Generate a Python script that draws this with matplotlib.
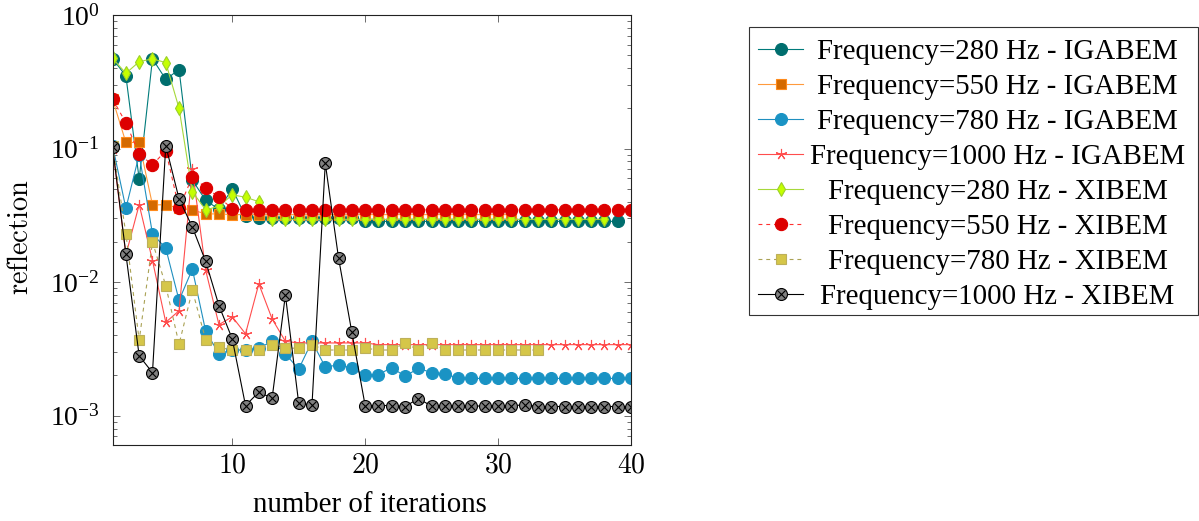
import matplotlib
matplotlib.use('Agg')
import matplotlib.pyplot as plt
from matplotlib.patches import Rectangle
import numpy as np

plt.rcParams['mathtext.fontset'] = 'cm'
plt.rcParams['font.family'] = ['Liberation Serif', 'DejaVu Serif']

# iteration numbers
iters = np.arange(1, 41)

# reflection per iteration
igabem_280 = [0.47, 0.35, 0.059, 0.47, 0.33, 0.39, 0.058, 0.041, 0.035, 0.050,
              0.031, 0.030, 0.030, 0.030, 0.030, 0.030, 0.030, 0.030, 0.030, 0.0285,
              0.0285, 0.0285, 0.0285, 0.0285, 0.0285, 0.0285, 0.0285, 0.0285, 0.0285, 0.0285,
              0.0285, 0.0285, 0.0285, 0.0285, 0.0285, 0.0285, 0.0285, 0.0285, 0.0285]
igabem_550 = [0.234, 0.111, 0.111, 0.0378, 0.038, 0.0357, 0.0347, 0.0324, 0.0324, 0.032,
              0.032, 0.032, 0.032, 0.032, 0.032, 0.032, 0.032, 0.032, 0.032, 0.032,
              0.032, 0.032, 0.032, 0.032, 0.032, 0.032, 0.032, 0.032, 0.032, 0.032,
              0.032]
igabem_780 = [0.105, 0.0357, 0.09, 0.023, 0.0179, 0.0073, 0.0125, 0.0043, 0.0029, 0.0031,
              0.0031, 0.0032, 0.0036, 0.0029, 0.00223, 0.0036, 0.00231, 0.0024, 0.00227, 0.0020,
              0.00203, 0.00229, 0.00197, 0.00226, 0.0021, 0.00206, 0.0019, 0.0019, 0.0019, 0.0019,
              0.0019, 0.0019, 0.0019, 0.0019, 0.0019, 0.0019, 0.0019, 0.0019, 0.0019, 0.0019]
igabem_1000 = [0.1, 0.016, 0.038, 0.0145, 0.0050, 0.0061, 0.07, 0.0123, 0.0048, 0.0055,
               0.0041, 0.0097, 0.0053, 0.0036, 0.0035, 0.0035, 0.0035, 0.0035, 0.0035, 0.0035,
               0.0034, 0.0034, 0.0034, 0.0034, 0.0034, 0.0034, 0.0034, 0.0034, 0.0034, 0.0034,
               0.0034, 0.0034, 0.0034, 0.0034, 0.0034, 0.0034, 0.0034, 0.0034, 0.0034, 0.0034]
xibem_280 = [0.474, 0.366, 0.447, 0.47, 0.44, 0.20, 0.0476, 0.0347, 0.037, 0.045,
             0.0432, 0.040, 0.0295, 0.0295, 0.0295, 0.0295, 0.0295, 0.0295, 0.0295, 0.0295,
             0.0295, 0.0295, 0.0295, 0.0295, 0.0295, 0.0295, 0.0295, 0.0295, 0.0295, 0.0295,
             0.0295, 0.0295, 0.0295, 0.0295, 0.0295, 0.0295, 0.0295, 0.0295]
xibem_550 = [0.234, 0.156, 0.091, 0.0754, 0.0965, 0.0357, 0.0616, 0.051, 0.0432, 0.0355,
             0.0347, 0.0347, 0.0347, 0.0347, 0.0347, 0.0347, 0.0347, 0.0347, 0.0347, 0.0347,
             0.0347, 0.0347, 0.0347, 0.0347, 0.0347, 0.0347, 0.0347, 0.0347, 0.0347, 0.0347,
             0.0347, 0.0347, 0.0347, 0.0347, 0.0347, 0.0347, 0.0347, 0.0347, 0.0347, 0.0347]
xibem_780 = [0.105, 0.023, 0.00366, 0.020, 0.0094, 0.00343, 0.0087, 0.0037, 0.00324, 0.0031,
             0.0031, 0.0031, 0.0034, 0.0032, 0.0032, 0.0034, 0.0031, 0.0031, 0.0031, 0.0032,
             0.0031, 0.0031, 0.0035, 0.0031, 0.0035, 0.0031, 0.0031, 0.0031, 0.0031, 0.0031,
             0.0031, 0.0031, 0.0031]
xibem_1000 = [0.103, 0.0162, 0.0028, 0.0021, 0.105, 0.042, 0.0258, 0.0143, 0.00667, 0.00376,
              0.00119, 0.0015, 0.00135, 0.0080, 0.00124, 0.0012, 0.0776, 0.0151, 0.0042, 0.00119,
              0.00119, 0.00119, 0.00117, 0.00134, 0.00118, 0.00118, 0.00118, 0.00118, 0.00118, 0.00118,
              0.00118, 0.00121, 0.00117, 0.00117, 0.00117, 0.00117, 0.00117, 0.00117, 0.00117, 0.00117]

labels = ['Frequency=280 Hz - IGABEM', 'Frequency=550 Hz - IGABEM',
          'Frequency=780 Hz - IGABEM', 'Frequency=1000 Hz - IGABEM',
          'Frequency=280 Hz - XIBEM', 'Frequency=550 Hz - XIBEM',
          'Frequency=780 Hz - XIBEM', 'Frequency=1000 Hz - XIBEM']
series = [igabem_280, igabem_550, igabem_780, igabem_1000,
          xibem_280, xibem_550, xibem_780, xibem_1000]

dash = (0, (3.5, 3.5))
styles = [
    dict(color='#007b7b', ls='-', marker='o', ms=8.6, mfc='#006e6e', mec='#006e6e'),
    dict(color='#ff9a3c', ls='-', marker='s', ms=7.8, mfc='#d46a00', mec='#ff8a1a'),
    dict(color='#1f8fbf', ls='-', marker='o', ms=8.6, mfc='#1a93c4', mec='#1a93c4'),
    dict(color='#ff4d4d', ls='-', marker=(5, 2, 0), ms=8, mfc='#ff4d4d', mec='#ff4d4d'),
    dict(color='#a6d83a', ls='-', marker='d', ms=6.8, mfc='#c4ff00', mec='#9ccf2a'),
    dict(color='#ff3030', ls=dash, marker='o', ms=8.8, mfc='#dd0000', mec='#dd0000'),
    dict(color='#aaa255', ls=dash, marker='s', ms=7.8, mfc='#d5c649', mec='#bdb05a'),
    dict(color='black', ls='-', marker='o', ms=8.6, mfc='#808080', mec='black'),
]


def draw(axis, x, y, st, lw=0.8):
    axis.plot(x, y, color=st['color'], ls=st['ls'], lw=lw, marker=st['marker'],
              ms=st['ms'], mfc=st['mfc'], mec=st['mec'], mew=0.8)


fig = plt.figure(figsize=(11.99, 5.21), dpi=100)
W, H = 1199, 521
ax = fig.add_axes([112.6 / W, 1 - 445 / H, (631 - 112.6) / W, (445 - 15) / H])

for vals, st in zip(series, styles):
    x = iters[:len(vals)]
    draw(ax, x, vals, st)
    if st['mfc'] == '#808080':
        ax.plot(x, vals, ls='none', marker='x', ms=5.2, mec='black', mew=0.8)

ax.set_yscale('log')
ax.set_xlim(1, 40)
ax.set_ylim(10 ** -3.22, 1)
ax.set_xticks([10, 20, 30, 40])
ax.set_xticklabels([r'$10$', r'$20$', r'$30$', r'$40$'])
ax.tick_params(which='both', direction='in', top=True, right=True,
               colors='#555555', width=0.6, labelcolor='black', labelsize=20)
ax.tick_params(which='major', length=5)
ax.tick_params(which='minor', length=3)
ax.tick_params(axis='y', pad=9)
ax.tick_params(axis='x', pad=6)
for sp in ax.spines.values():
    sp.set_linewidth(0.8)
    sp.set_color('#222222')

fig.text(370 / W, 1 - 505 / H, 'number of iterations', ha='center', va='center', fontsize=20.8)
fig.text(22 / W, 1 - 237 / H, r'$\mathrm{reflection}$', ha='center', va='center',
         rotation=90, fontsize=20.5)

# legend drawn by hand so the labels can be centred like in the original
lax = fig.add_axes([0, 0, 1, 1])
lax.set_xlim(0, W)
lax.set_ylim(H, 0)
lax.axis('off')
lax.add_patch(Rectangle((749, 27.3), 449.2, 287.7, fill=False, lw=0.8, edgecolor='#333333'))
for k, (lab, st) in enumerate(zip(labels, styles)):
    yy = 49.3 + 35 * k
    lax.plot([758, 803], [yy, yy], color=st['color'], ls=st['ls'], lw=0.8)
    lax.plot([781], [yy], ls='none', marker=st['marker'], ms=st['ms'],
             mfc=st['mfc'], mec=st['mec'], mew=0.8)
    if st['mfc'] == '#808080':
        lax.plot([781], [yy], ls='none', marker='x', ms=5.2, mec='black', mew=0.8)
    lax.text(997.5, yy, lab, ha='center', va='center_baseline', fontsize=20.8)

fig.savefig('out.png', dpi=100, facecolor='white')
